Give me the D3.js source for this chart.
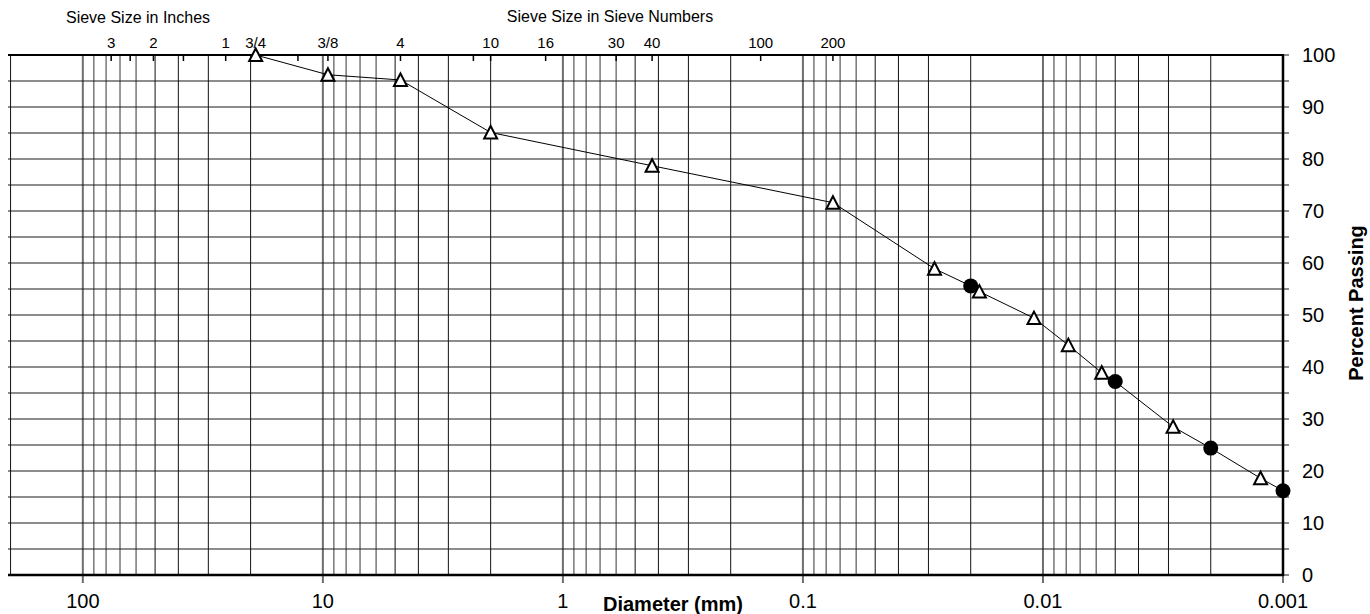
<!DOCTYPE html>
<html>
<head>
<meta charset="utf-8">
<script src="https://cdn.jsdelivr.net/npm/d3@7/dist/d3.min.js"></script>
<style>
  html, body { margin: 0; padding: 0; background: #fff; }
  svg { display: block; font-family: Arial, "Liberation Sans", sans-serif; }
</style>
</head>
<body>
<svg id="chart" width="1370" height="614"></svg>
<script>
// Sieve analysis (open triangles): diameter in mm, percent passing
const sieveDiameters = [19.05, 9.525, 4.75, 2.0, 0.425, 0.075,
                        0.0283, 0.0184, 0.0109, 0.00784, 0.00569, 0.00287, 0.00124];
const sievePassing   = [100, 96.2, 95.2, 85.1, 78.7, 71.6,
                        58.9, 54.5, 49.4, 44.2, 38.9, 28.5, 18.6];

// Hydrometer readings (filled circles)
const hydroDiameters = [0.02, 0.005, 0.002, 0.001];
const hydroPassing   = [55.6, 37.2, 24.4, 16.2];

// Bottom axis labels (mm)
const diameterTicks  = [100, 10, 1, 0.1, 0.01, 0.001];
const diameterLabels = ["100", "10", "1", "0.1", "0.01", "0.001"];

// Right axis labels
const percentTicks = [0, 10, 20, 30, 40, 50, 60, 70, 80, 90, 100];

// Top sieve designations: openings in mm and their labels
const inchSieveSizes  = [76.2, 63.5, 50.8, 38.1, 25.4, 19.05, 12.7, 9.525];
const inchSieveLabels = ["3", "", "2", "", "1", "3/4", "", "3/8"];
const numberSieveSizes  = [4.75, 2.36, 2.0, 1.18, 0.6, 0.425, 0.15, 0.075];
const numberSieveLabels = ["4", "", "10", "16", "30", "40", "100", "200"];

const svg = d3.select("#chart");
const plotLeft = 8, plotRight = 1283, plotTop = 55, plotBottom = 575;

const x = d3.scaleLog().domain([205, 0.001]).range([plotLeft, plotRight]);
const y = d3.scaleLinear().domain([0, 100]).range([plotBottom, plotTop]);

// Vertical log grid: 1..9 per decade
const gridValues = [];
for (let e = 2; e >= -3; e--) {
  for (let m = 9; m >= 1; m--) {
    const v = m * Math.pow(10, e);
    if (v <= 205 && v > 0.001 - 1e-12) gridValues.push({ v, m });
  }
}
const grid = svg.append("g");
grid.selectAll("line.v").data(gridValues).join("line")
  .attr("class", "v")
  .attr("x1", d => x(d.v)).attr("x2", d => x(d.v))
  .attr("y1", plotTop).attr("y2", plotBottom)
  .attr("stroke", d => (d.m === 1 || d.m >= 6) ? "#6e6e6e" : "#111")
  .attr("stroke-width", d => d.m === 1 ? 2 : (d.m >= 6 ? 1.4 : 1));

// Horizontal grid every 5 %
const hValues = d3.range(0, 101, 5);
grid.selectAll("line.h").data(hValues).join("line")
  .attr("class", "h")
  .attr("x1", plotLeft).attr("x2", plotRight + 6)
  .attr("y1", d => y(d)).attr("y2", d => y(d))
  .attr("stroke", "#1a1a1a").attr("stroke-width", 1.1);

// Decade ticks below the bottom axis
grid.selectAll("line.dt").data(diameterTicks).join("line")
  .attr("class", "dt")
  .attr("x1", d => x(d)).attr("x2", d => x(d))
  .attr("y1", plotBottom).attr("y2", plotBottom + 8)
  .attr("stroke", "#6e6e6e").attr("stroke-width", 2);

// Frame: top, bottom, right
svg.append("line").attr("x1", plotLeft).attr("x2", plotRight + 1).attr("y1", plotTop).attr("y2", plotTop)
  .attr("stroke", "#000").attr("stroke-width", 2);
svg.append("line").attr("x1", plotLeft).attr("x2", plotRight + 1).attr("y1", plotBottom).attr("y2", plotBottom)
  .attr("stroke", "#000").attr("stroke-width", 2.5);
svg.append("line").attr("x1", plotRight).attr("x2", plotRight).attr("y1", plotTop).attr("y2", plotBottom + 1)
  .attr("stroke", "#000").attr("stroke-width", 2.5);

// Sieve ticks hanging from the top axis
const sieveSizes = inchSieveSizes.concat(numberSieveSizes);
const sieveLabels = inchSieveLabels.concat(numberSieveLabels);
svg.append("g").selectAll("line").data(sieveSizes).join("line")
  .attr("x1", d => x(d)).attr("x2", d => x(d))
  .attr("y1", plotTop).attr("y2", plotTop + 6)
  .attr("stroke", "#000").attr("stroke-width", 1.5);
svg.append("g").selectAll("text").data(sieveSizes).join("text")
  .attr("x", d => x(d)).attr("y", 48)
  .attr("text-anchor", "middle")
  .attr("font-size", 15)
  .text((d, i) => sieveLabels[i]);

svg.append("text").attr("x", 138).attr("y", 23).attr("text-anchor", "middle")
  .attr("font-size", 16).text("Sieve Size in Inches");
svg.append("text").attr("x", 610).attr("y", 22).attr("text-anchor", "middle")
  .attr("font-size", 16).text("Sieve Size in Sieve Numbers");

// Bottom labels
svg.append("g").selectAll("text").data(diameterTicks).join("text")
  .attr("x", d => x(d)).attr("y", 608)
  .attr("text-anchor", "middle").attr("font-size", 20)
  .text((d, i) => diameterLabels[i]);
svg.append("text").attr("x", 673).attr("y", 611).attr("text-anchor", "middle")
  .attr("font-size", 20).attr("font-weight", "bold").text("Diameter (mm)");

// Right labels
svg.append("g").selectAll("text").data(percentTicks).join("text")
  .attr("x", 1302).attr("y", d => y(d)).attr("dy", "0.36em")
  .attr("font-size", 20).text(d => d);
svg.append("text")
  .attr("transform", "translate(1363,303) rotate(-90)")
  .attr("text-anchor", "middle").attr("font-size", 20).attr("font-weight", "bold")
  .text("Percent Passing");

// Gradation curve through all readings
const sievePts = sieveDiameters.map((d, i) => ({ d, p: sievePassing[i] }));
const hydroPts = hydroDiameters.map((d, i) => ({ d, p: hydroPassing[i] }));
const allPts = sievePts.concat(hydroPts).sort((a, b) => b.d - a.d);
svg.append("path").datum(allPts)
  .attr("fill", "none").attr("stroke", "#000").attr("stroke-width", 1)
  .attr("d", d3.line().x(d => x(d.d)).y(d => y(d.p)));

// Markers
const tri = "M0,-6.5L6.5,6L-6.5,6Z";
svg.append("g").selectAll("path").data(sievePts).join("path")
  .attr("transform", d => `translate(${x(d.d)},${y(d.p)})`)
  .attr("d", tri)
  .attr("fill", "#fff").attr("stroke", "#000").attr("stroke-width", 2);
svg.append("g").selectAll("circle").data(hydroPts).join("circle")
  .attr("cx", d => x(d.d)).attr("cy", d => y(d.p)).attr("r", 7.5)
  .attr("fill", "#000");
</script>
</body>
</html>
